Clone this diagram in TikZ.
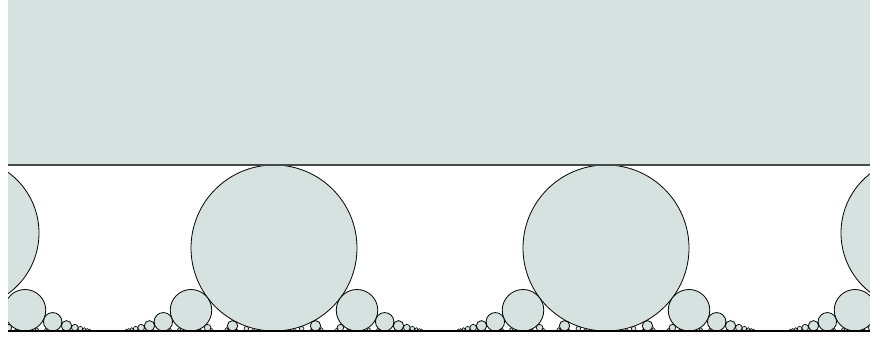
\documentclass[tikz,border=0pt]{standalone}
\definecolor{fordfill}{RGB}{214,226,223}
\definecolor{topline}{RGB}{70,74,72}
\tikzset{
  fordc/.style={fill=fordfill, draw=black, line width=0.8pt},
  baseln/.style={draw=black, line width=1.5pt},
  topln/.style={draw=topline, line width=1.5pt}
}
\begin{document}
\begin{tikzpicture}[x=1pt,y=1pt]
\useasboundingbox (0,0) rectangle (870,337);
% upper region
\fill[fordfill] (8,172) rectangle (870,337);
\begin{scope}
\clip (8,0) rectangle (870,172);
% side circles
\draw[fordc] (-36,104) circle (75);
\draw[fordc] (916,104) circle (75);
% circles p/q with p,q not both odd
\foreach \qq in {1,...,9}{
  \pgfmathtruncatemacro\pmin{ceil(-1.65*\qq)}
  \pgfmathtruncatemacro\pmax{floor(3.65*\qq)}
  \foreach \pp in {\pmin,...,\pmax}{
    \pgfmathtruncatemacro\ok{((gcd(abs(\pp),\qq)==1) && !((mod(abs(\pp),2)==1) && (mod(\qq,2)==1))) ? 1 : 0}
    \ifnum\ok=1
      \pgfmathsetmacro\cx{274+166*\pp/\qq}
      \pgfmathsetmacro\rr{83/(\qq*\qq)}
      \pgfmathsetmacro\lw{min(0.8,0.35+\rr*0.1)}
      \draw[fordc, line width=\lw pt] (\cx,6+\rr) circle (\rr);
    \fi
  }
}
\end{scope}
\draw[topln] (8,172) -- (870,172);
\draw[baseln] (8,6) -- (870,6);
\end{tikzpicture}
\end{document}
